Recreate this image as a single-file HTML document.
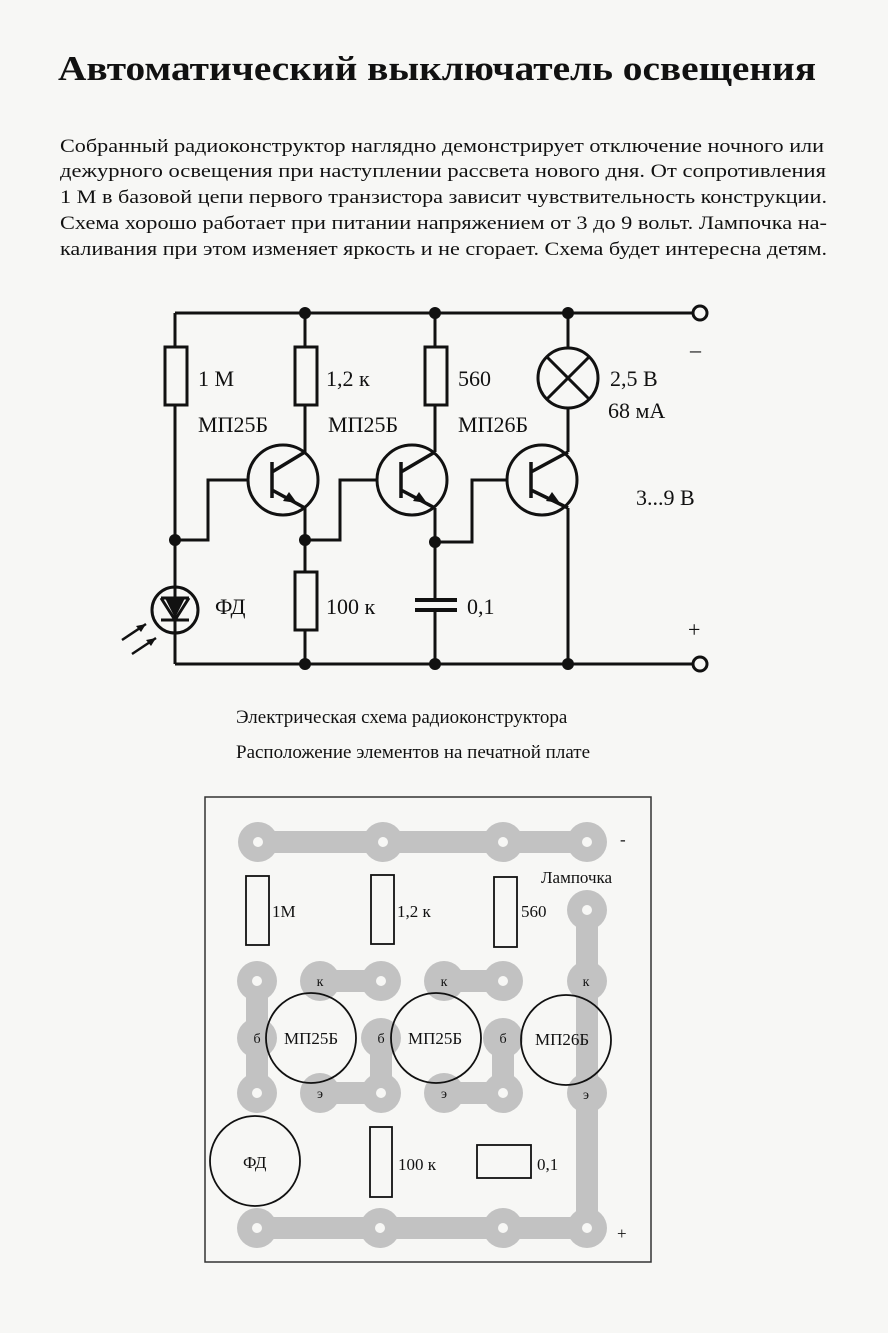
<!DOCTYPE html>
<html><head><meta charset="utf-8"><style>
html,body{margin:0;padding:0;background:#f7f7f5;}
svg{display:block}
text{font-family:"Liberation Serif","Noto Serif CJK SC",serif;fill:#111}
</style></head><body>
<svg width="888" height="1333" viewBox="0 0 888 1333" xmlns="http://www.w3.org/2000/svg">
<rect width="888" height="1333" fill="#f7f7f5"/>
<text x="58" y="80" font-size="35" font-weight="bold" textLength="758" lengthAdjust="spacingAndGlyphs">Автоматический выключатель освещения</text>
<g font-size="19">
<text x="60" y="152" textLength="764" lengthAdjust="spacingAndGlyphs">Собранный радиоконструктор наглядно демонстрирует отключение ночного или</text>
<text x="60" y="177" textLength="766" lengthAdjust="spacingAndGlyphs">дежурного освещения при наступлении рассвета нового дня.   От сопротивления</text>
<text x="60" y="203" textLength="767" lengthAdjust="spacingAndGlyphs">1 М в базовой цепи первого транзистора зависит чувствительность конструкции.</text>
<text x="60" y="229" textLength="767" lengthAdjust="spacingAndGlyphs">Схема хорошо работает при питании напряжением от 3 до 9 вольт.  Лампочка на-</text>
<text x="60" y="255" textLength="767" lengthAdjust="spacingAndGlyphs">каливания при этом изменяет яркость и не сгорает. Схема будет интересна детям.</text>
</g>

<!-- schematic -->
<g stroke="#111" stroke-width="3" fill="none">
<path d="M175 313H693M175 664H693"/>
<path d="M175 313V540V664"/>
<path d="M305 313V452M305 508V664"/>
<path d="M435 313V452M435 508V598M435 612V664"/>
<path d="M568 313V348M568 408V452M568 508V664"/>
<path d="M175 540H208V480H272"/>
<path d="M305 540H340V480H402"/>
<path d="M435 542H472V480H534"/>
<circle cx="700" cy="313" r="7"/>
<circle cx="700" cy="664" r="7"/>
</g>
<g fill="#f7f7f5" stroke="#111" stroke-width="3">
<rect x="165" y="347" width="22" height="58"/>
<rect x="295" y="347" width="22" height="58"/>
<rect x="425" y="347" width="22" height="58"/>
<rect x="295" y="572" width="22" height="58"/>
<circle cx="568" cy="378" r="30"/>
<circle cx="175" cy="610" r="23"/>
<circle cx="283" cy="480" r="35"/>
<circle cx="412" cy="480" r="35"/>
<circle cx="542" cy="480" r="35"/>
</g>
<g stroke="#111" stroke-width="3" fill="none">
<path d="M547 357L589 399M589 357L547 399"/>
<path d="M175 587V633M161 598H189M175 620L161 598M175 620L189 598M161 620H189"/>
<path d="M415 600H457M415 610H457" stroke-width="4"/>
</g>
<path d="M165 598H185L175 618Z" fill="#111"/>
<g stroke="#111" stroke-width="2.5">
<path d="M122 640L146 624M132 654L156 638"/>
</g>
<g fill="#111"><path d="M146 624l-10 2 5 6z"/><path d="M156 638l-10 2 5 6z"/></g>
<!-- transistors -->
<g stroke="#111" stroke-width="3.5" fill="none">
<path d="M272 462V498M272 472L305 452M272 490L305 508"/>
<path d="M401 462V498M401 472L435 452M401 490L435 508"/>
<path d="M531 462V498M531 472L568 452M531 490L568 508"/>
</g>
<g fill="#111">
<path d="M297 503l-14 -2 6 -9z"/>
<path d="M427 503l-14 -2 6 -9z"/>
<path d="M560 503l-14 -2 6 -9z"/>
</g>
<g fill="#111">
<circle cx="305" cy="313" r="6"/><circle cx="435" cy="313" r="6"/><circle cx="568" cy="313" r="6"/>
<circle cx="305" cy="664" r="6"/><circle cx="435" cy="664" r="6"/><circle cx="568" cy="664" r="6"/>
<circle cx="175" cy="540" r="6"/><circle cx="305" cy="540" r="6"/><circle cx="435" cy="542" r="6"/>
</g>
<g font-size="22">
<text x="198" y="386">1 М</text>
<text x="326" y="386">1,2 к</text>
<text x="458" y="386">560</text>
<text x="610" y="386">2,5  В</text>
<text x="608" y="418">68 мА</text>
<text x="198" y="432">МП25Б</text>
<text x="328" y="432">МП25Б</text>
<text x="458" y="432">МП26Б</text>
<text x="636" y="505">3...9 В</text>
<text x="215" y="614">ФД</text>
<text x="326" y="614">100 к</text>
<text x="467" y="614">0,1</text>
<text x="690" y="357">–</text>
<text x="688" y="637">+</text>
</g>
<g font-size="19">
<text x="236" y="723">Электрическая схема радиоконструктора</text>
<text x="236" y="758">Расположение элементов на печатной плате</text>
</g>

<!-- PCB -->
<rect x="205" y="797" width="446" height="465" fill="none" stroke="#333" stroke-width="1.5"/>
<g stroke="#c2c2c2" stroke-linecap="round" fill="none" stroke-width="22">
<path d="M258 842H587M257 1228H587V910"/>
<path d="M257 981V1093M320 981H381M381 1038V1093H320M444 981H503M503 1038V1093H444"/>
</g>
<g fill="#c2c2c2">
<circle cx="258" cy="842" r="20"/><circle cx="383" cy="842" r="20"/><circle cx="503" cy="842" r="20"/><circle cx="587" cy="842" r="20"/>
<circle cx="257" cy="1228" r="20"/><circle cx="380" cy="1228" r="20"/><circle cx="503" cy="1228" r="20"/><circle cx="587" cy="1228" r="20"/>
<circle cx="587" cy="910" r="20"/>
<circle cx="257" cy="981" r="20"/><circle cx="320" cy="981" r="20"/><circle cx="381" cy="981" r="20"/><circle cx="444" cy="981" r="20"/><circle cx="503" cy="981" r="20"/><circle cx="587" cy="981" r="20"/>
<circle cx="257" cy="1038" r="20"/><circle cx="381" cy="1038" r="20"/><circle cx="503" cy="1038" r="20"/>
<circle cx="257" cy="1093" r="20"/><circle cx="320" cy="1093" r="20"/><circle cx="381" cy="1093" r="20"/><circle cx="444" cy="1093" r="20"/><circle cx="503" cy="1093" r="20"/><circle cx="587" cy="1093" r="20"/>
</g>
<g fill="#f7f7f5">
<circle cx="258" cy="842" r="5"/><circle cx="383" cy="842" r="5"/><circle cx="503" cy="842" r="5"/><circle cx="587" cy="842" r="5"/>
<circle cx="257" cy="1228" r="5"/><circle cx="380" cy="1228" r="5"/><circle cx="503" cy="1228" r="5"/><circle cx="587" cy="1228" r="5"/>
<circle cx="587" cy="910" r="5"/>
<circle cx="257" cy="981" r="5"/><circle cx="381" cy="981" r="5"/><circle cx="503" cy="981" r="5"/>
<circle cx="257" cy="1093" r="5"/><circle cx="381" cy="1093" r="5"/><circle cx="503" cy="1093" r="5"/>
</g>
<g fill="none" stroke="#111" stroke-width="1.8">
<circle cx="311" cy="1038" r="45"/><circle cx="436" cy="1038" r="45"/><circle cx="566" cy="1040" r="45"/>
<circle cx="255" cy="1161" r="45"/>
<rect x="246" y="876" width="23" height="69"/>
<rect x="371" y="875" width="23" height="69"/>
<rect x="494" y="877" width="23" height="70"/>
<rect x="370" y="1127" width="22" height="70"/>
<rect x="477" y="1145" width="54" height="33"/>
</g>
<g font-size="17">
<text x="272" y="917">1М</text>
<text x="397" y="917">1,2 к</text>
<text x="521" y="917">560</text>
<text x="541" y="883">Лампочка</text>
<text x="398" y="1170">100 к</text>
<text x="537" y="1170">0,1</text>
<text x="243" y="1168">ФД</text>
<text x="284" y="1044">МП25Б</text>
<text x="408" y="1044">МП25Б</text>
<text x="535" y="1045">МП26Б</text>
<text x="620" y="845">-</text>
<text x="617" y="1239">+</text>
</g>
<g font-size="14" text-anchor="middle">
<text x="320" y="986">к</text><text x="444" y="986">к</text><text x="586" y="986">к</text>
<text x="320" y="1098">э</text><text x="444" y="1098">э</text><text x="586" y="1099">э</text>
<text x="257" y="1043">б</text><text x="381" y="1043">б</text><text x="503" y="1043">б</text>
</g>
</svg>
</body></html>
